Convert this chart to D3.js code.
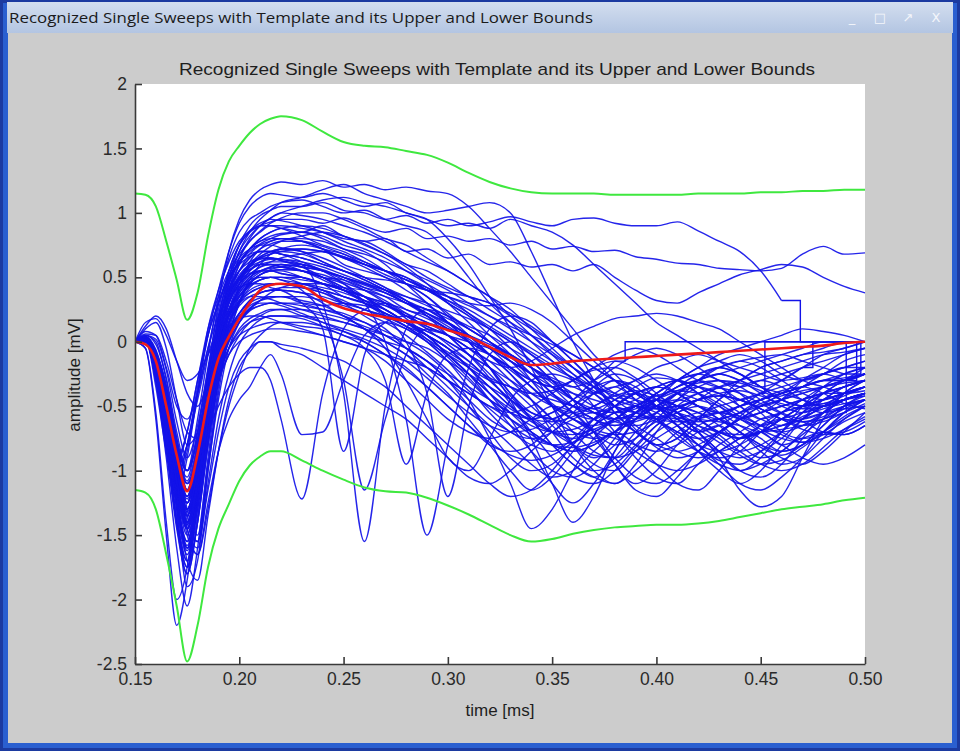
<!DOCTYPE html>
<html><head><meta charset="utf-8">
<script src="https://cdn.jsdelivr.net/npm/d3@7"></script>
<style>body{margin:0;background:#fff;overflow:hidden}</style>
</head><body>
<svg id="c" width="960" height="751"></svg>
<script>
// ---------- DATA ----------
const windowTitle = "Recognized Single Sweeps with Template and its Upper and Lower Bounds";
const chartTitle = "Recognized Single Sweeps with Template and its Upper and Lower Bounds";
const xLabel = "time [ms]";
const yLabel = "amplitude [mV]";
const xTicks = [0.15, 0.20, 0.25, 0.30, 0.35, 0.40, 0.45, 0.50];
const xTickLabels = ["0.15", "0.20", "0.25", "0.30", "0.35", "0.40", "0.45", "0.50"];
const yTicks = [2, 1.5, 1, 0.5, 0, -0.5, -1, -1.5, -2, -2.5];
const yTickLabels = ["2", "1.5", "1", "0.5", "0", "-0.5", "-1", "-1.5", "-2", "-2.5"];

const times = [0.150,0.155,0.160,0.165,0.170,0.175,0.180,0.185,0.190,0.195,0.200,0.205,0.210,0.215,0.220,
  0.23,0.24,0.25,0.26,0.27,0.28,0.29,0.30,0.31,0.32,0.33,0.34,0.35,0.36,0.37,0.38,0.39,0.40,0.41,0.42,0.43,0.44,0.45,0.46,0.47,0.48,0.49,0.50];

const template = [0,-0.02,-0.15,-0.5,-0.88,-1.16,-0.87,-0.45,-0.13,0.04,0.18,0.3,0.4,0.44,0.45,
  0.43,0.33,0.26,0.22,0.19,0.16,0.14,0.09,0.04,-0.04,-0.12,-0.18,-0.17,-0.15,-0.14,-0.13,-0.12,-0.11,-0.1,-0.09,-0.08,-0.07,-0.06,-0.05,-0.04,-0.03,-0.01,0];
const upperBound = [1.15,1.14,1.05,0.78,0.48,0.17,0.38,0.82,1.18,1.4,1.52,1.62,1.69,1.73,1.75,
  1.72,1.63,1.55,1.52,1.51,1.48,1.45,1.39,1.31,1.24,1.19,1.16,1.15,1.15,1.15,1.14,1.14,1.14,1.14,1.15,1.15,1.15,1.16,1.16,1.17,1.17,1.18,1.18];
const lowerBound = [-1.15,-1.17,-1.3,-1.65,-2.05,-2.48,-2.2,-1.75,-1.45,-1.26,-1.08,-0.96,-0.89,-0.85,-0.85,
  -0.92,-1.0,-1.07,-1.13,-1.16,-1.17,-1.21,-1.27,-1.34,-1.42,-1.5,-1.55,-1.53,-1.49,-1.46,-1.44,-1.43,-1.42,-1.42,-1.41,-1.39,-1.36,-1.33,-1.3,-1.28,-1.26,-1.23,-1.21];

const sweep01 = [0,0.03,-0.08,-0.4,-0.9,-1.25,-0.85,-0.25,0.3,0.7,0.95,1.1,1.18,1.22,1.24,
  1.22,1.25,1.2,1.22,1.18,1.2,1.17,1.15,1.05,0.88,0.7,0.5,0.3,0.1,-0.1,-0.25,-0.4,-0.5,-0.6,-0.7,-0.65,-0.75,-0.7,-0.8,-0.75,-0.7,-0.72,-0.65];
const sweep02 = [0,0.02,-0.3,-0.8,-1.1,-0.85,-0.4,0.05,0.4,0.7,0.92,1.05,1.12,1.15,1.14,
  1.12,1.15,1.1,1.05,1.08,1.0,0.95,0.8,0.6,0.35,0.1,-0.2,-0.5,-0.8,-1.0,-1.1,-0.95,-0.7,-0.5,-0.4,-0.35,-0.5,-0.6,-0.55,-0.45,-0.4,-0.35,-0.3];
const sweep03 = [0,0.02,-0.12,-0.5,-1.0,-1.35,-1.0,-0.45,0.1,0.5,0.75,0.9,0.98,1.02,1.05,
  1.05,1.08,1.02,1.0,0.95,0.98,0.92,0.95,0.9,0.93,0.97,0.93,0.9,0.95,0.96,0.92,0.9,0.9,0.93,0.86,0.78,0.7,0.55,0.32,0.12,0,0,0];
const sweep04 = [0,0.04,-0.1,-0.45,-0.85,-1.05,-0.7,-0.2,0.25,0.55,0.75,0.85,0.9,0.93,0.95,
  0.95,0.92,0.96,0.9,0.85,0.88,0.8,0.82,0.78,0.8,0.75,0.78,0.72,0.74,0.7,0.71,0.66,0.64,0.61,0.6,0.57,0.56,0.55,0.57,0.68,0.74,0.68,0.69];
const sweep05 = [0,0.02,-0.15,-0.55,-1.05,-1.4,-1.05,-0.5,0.0,0.35,0.6,0.72,0.8,0.85,0.88,
  0.85,0.9,0.82,0.78,0.8,0.7,0.72,0.65,0.68,0.6,0.62,0.58,0.6,0.55,0.6,0.5,0.4,0.32,0.3,0.38,0.45,0.52,0.56,0.6,0.58,0.5,0.43,0.38];
const sweep06 = [0,0.03,-0.1,-0.5,-1.0,-1.3,-0.95,-0.4,0.1,0.45,0.7,0.85,0.95,1.02,1.08,
  1.12,1.18,1.22,1.15,1.1,1.05,1.0,1.02,1.05,1.08,1.0,0.7,0.35,0.0,-0.3,-0.55,-0.7,-0.8,-0.75,-0.6,-0.45,-0.3,-0.2,-0.15,-0.1,-0.08,-0.05,0];
const sweep07 = [0,0.02,-0.08,-0.35,-0.75,-1.0,-0.6,-0.1,0.35,0.65,0.85,0.95,1.0,1.05,1.08,
  1.1,1.05,1.0,1.02,0.95,0.9,0.85,0.7,0.5,0.3,0.15,0.0,-0.15,-0.3,-0.5,-0.7,-0.9,-1.05,-1.1,-0.95,-0.8,-0.7,-0.6,-0.55,-0.5,-0.48,-0.45,-0.42];
const sweep08 = [0,0.0,-0.2,-0.6,-1.1,-1.45,-1.1,-0.55,0.0,0.4,0.65,0.8,0.9,0.96,1.0,
  0.98,0.95,0.9,0.85,0.78,0.7,0.62,0.55,0.45,0.35,0.25,0.1,-0.05,-0.2,-0.35,-0.5,-0.6,-0.55,-0.45,-0.3,-0.2,-0.25,-0.35,-0.45,-0.5,-0.55,-0.52,-0.5];
const sweep09 = [0,0.03,-0.1,-0.4,-0.9,-1.2,-0.85,-0.3,0.15,0.45,0.65,0.78,0.85,0.9,0.9,
  0.88,0.85,0.8,0.78,0.7,0.6,0.55,0.45,0.35,0.3,0.2,0.1,0.0,-0.1,-0.2,-0.3,-0.4,-0.5,-0.55,-0.7,-0.9,-1.15,-1.28,-1.2,-0.9,-0.6,-0.4,-0.3];
const sweep10 = [0,0.03,-0.25,-0.7,-0.95,-0.7,-0.3,0.05,0.3,0.5,0.62,0.7,0.76,0.8,0.83,
  0.85,0.82,0.75,0.7,0.6,0.45,0.3,0.15,0.0,-0.2,-0.4,-0.55,-0.6,-0.5,-0.35,-0.25,-0.3,-0.45,-0.6,-0.7,-0.65,-0.55,-0.45,-0.4,-0.35,-0.3,-0.28,-0.25];
const sweep11 = [0,0.02,-0.08,-0.35,-0.8,-1.3,-1.5,-0.95,-0.35,0.15,0.45,0.62,0.72,0.78,0.8,
  0.78,0.72,0.6,0.55,0.5,0.4,0.3,0.15,0.0,-0.2,-0.45,-0.75,-1.1,-1.4,-1.2,-0.85,-0.6,-0.5,-0.4,-0.45,-0.5,-0.6,-0.65,-0.6,-0.55,-0.5,-0.45,-0.4];
const sweep12 = [0,0.0,-0.15,-0.5,-1.0,-1.35,-1.1,-0.7,-0.3,0.05,0.3,0.48,0.6,0.68,0.72,
  0.75,0.72,0.65,0.6,0.55,0.5,0.42,0.3,0.2,0.05,-0.1,-0.3,-0.5,-0.7,-0.85,-0.9,-0.75,-0.55,-0.4,-0.3,-0.25,-0.2,-0.15,-0.1,-0.05,0,0,0];
const sweep13 = [0,0.03,-0.12,-0.5,-0.95,-1.25,-0.85,-0.3,0.2,0.48,0.62,0.68,0.7,0.7,0.68,
  0.62,0.55,0.45,0.3,0.0,-0.6,-1.5,-0.8,-0.2,0.1,0.2,0.15,0.0,-0.15,-0.3,-0.45,-0.55,-0.6,-0.55,-0.45,-0.35,-0.3,-0.25,-0.2,-0.15,-0.1,-0.08,-0.05];
const sweep14 = [0,0.02,-0.2,-0.65,-1.2,-1.6,-1.25,-0.7,-0.15,0.2,0.42,0.55,0.62,0.65,0.64,
  0.6,0.3,-0.4,-1.55,-0.5,0.1,0.25,0.2,0.1,0.0,-0.1,-0.25,-0.4,-0.55,-0.6,-0.5,-0.4,-0.35,-0.4,-0.5,-0.55,-0.5,-0.45,-0.4,-0.35,-0.3,-0.3,-0.25];
const sweep15 = [0,0.02,-0.1,-0.4,-0.85,-1.15,-0.95,-0.7,-0.5,-0.35,-0.25,-0.2,-0.2,-0.3,-0.6,
  -1.22,-0.4,0.1,0.25,0.3,0.2,0.1,0.05,-0.05,-0.15,-0.3,-0.45,-0.6,-0.7,-0.75,-0.7,-0.55,-0.45,-0.5,-0.6,-0.7,-0.75,-0.7,-0.6,-0.5,-0.45,-0.4,-0.35];
const sweep16 = [0,0.02,-0.1,-0.4,-0.95,-1.45,-1.65,-1.25,-0.85,-0.6,-0.45,-0.35,-0.2,-0.1,-0.25,
  -0.72,-0.7,-0.3,0.05,0.15,0.1,0.0,-0.1,-0.2,-0.3,-0.35,-0.45,-0.6,-0.8,-0.95,-1.0,-0.85,-0.7,-0.6,-0.55,-0.5,-0.45,-0.4,-0.35,-0.3,-0.25,-0.2,-0.2];
const sweep17 = [0,0.02,-0.3,-0.8,-1.05,-0.8,-0.4,-0.05,0.2,0.35,0.42,0.45,0.45,0.42,0.4,
  0.3,0.1,-0.85,-0.1,0.15,0.2,0.15,0.05,-0.1,-0.2,-0.35,-0.5,-0.65,-0.8,-0.9,-0.8,-0.6,-0.45,-0.35,-0.3,-0.35,-0.45,-0.5,-0.45,-0.35,-0.25,-0.2,-0.15];
const sweep18 = [0,0.02,-0.15,-0.55,-1.05,-1.4,-1.05,-0.5,-0.05,0.25,0.4,0.48,0.5,0.5,0.48,
  0.4,0.2,-0.3,-1.15,-0.6,-0.1,0.1,0.05,-0.05,-0.2,-0.4,-0.6,-0.8,-0.95,-1.05,-0.9,-0.7,-0.55,-0.5,-0.55,-0.65,-0.8,-0.9,-0.85,-0.7,-0.55,-0.45,-0.4];
const sweep19 = [0,0.03,-0.1,-0.45,-0.9,-1.2,-0.9,-0.45,0.0,0.3,0.45,0.52,0.55,0.55,0.53,
  0.5,0.45,0.4,0.35,0.2,0.0,-0.4,-1.2,-0.5,-0.1,0.0,-0.1,-0.25,-0.45,-0.7,-0.95,-1.1,-1.0,-0.8,-0.65,-0.6,-0.7,-0.85,-0.95,-0.9,-0.75,-0.6,-0.5];
const sweep20 = [0,0.02,-0.12,-0.45,-0.95,-1.25,-0.95,-0.45,0.0,0.3,0.45,0.55,0.6,0.6,0.58,
  0.55,0.5,0.48,0.42,0.38,0.3,0.25,0.15,0.05,-0.1,-0.25,-0.4,-0.5,-0.55,-0.5,-0.4,-0.3,-0.25,-0.3,-0.4,-0.5,-0.6,-0.55,-0.45,-0.3,-0.2,-0.1,-0.05];
const sweep21 = [0,0.02,-0.08,-0.35,-0.85,-1.35,-1.55,-1.0,-0.4,0.05,0.3,0.45,0.52,0.55,0.55,
  0.5,0.45,0.35,0.3,0.25,0.15,0.05,-0.05,-0.2,-0.4,-0.6,-0.85,-1.1,-1.25,-1.1,-0.85,-0.6,-0.45,-0.35,-0.3,-0.25,-0.3,-0.35,-0.3,-0.2,-0.1,-0.05,0];
const sweep22 = [0,0.02,-0.3,-0.9,-1.6,-2.05,-1.6,-0.9,-0.3,0.1,0.3,0.42,0.48,0.5,0.5,
  0.45,0.4,0.3,0.2,0.1,-0.05,-0.2,-0.35,-0.5,-0.65,-0.8,-0.95,-1.05,-1.0,-0.85,-0.7,-0.55,-0.5,-0.55,-0.65,-0.75,-0.85,-0.8,-0.7,-0.55,-0.4,-0.3,-0.2];
const sweep23 = [0,-0.05,-0.6,-1.5,-2.2,-1.85,-1.2,-0.6,-0.15,0.1,0.22,0.32,0.38,0.4,0.4,
  0.38,0.3,0.2,0.15,0.05,-0.05,-0.15,-0.3,-0.45,-0.6,-0.7,-0.8,-0.85,-0.75,-0.6,-0.5,-0.4,-0.35,-0.4,-0.5,-0.6,-0.7,-0.8,-0.9,-0.95,-0.85,-0.7,-0.55];
const sweep24 = [0,0.02,-0.15,-0.6,-1.3,-1.9,-1.7,-1.0,-0.45,-0.05,0.15,0.26,0.32,0.35,0.35,
  0.3,0.25,0.2,0.1,0.0,-0.1,-0.25,-0.4,-0.6,-0.8,-1.0,-1.15,-1.05,-0.85,-0.65,-0.5,-0.4,-0.45,-0.55,-0.7,-0.85,-1.0,-1.05,-0.95,-0.75,-0.55,-0.4,-0.3];
const sweep25 = [0,0.0,-0.2,-0.75,-1.4,-1.75,-1.4,-0.8,-0.3,0.0,0.15,0.24,0.28,0.3,0.3,
  0.28,0.25,0.22,0.15,0.08,0.0,-0.1,-0.25,-0.45,-0.75,-1.1,-1.45,-1.3,-1.0,-0.75,-0.6,-0.5,-0.45,-0.5,-0.55,-0.6,-0.55,-0.5,-0.45,-0.4,-0.35,-0.3,-0.25];
const sweep26 = [0,0.02,-0.18,-0.65,-1.25,-1.6,-1.3,-0.75,-0.3,-0.05,0.1,0.18,0.22,0.25,0.25,
  0.2,0.15,0.1,0.05,0.0,-0.05,-0.15,-0.3,-0.5,-0.7,-0.9,-1.0,-0.95,-0.8,-0.6,-0.45,-0.4,-0.5,-0.65,-0.8,-0.95,-1.1,-1.15,-1.05,-0.9,-0.7,-0.55,-0.45];
const sweep27 = [0,0.03,-0.15,-0.55,-1.1,-1.45,-1.2,-0.7,-0.3,-0.05,0.08,0.15,0.18,0.2,0.2,
  0.18,0.12,0.05,0.0,-0.1,-0.2,-0.35,-0.5,-0.65,-0.8,-0.85,-0.8,-0.65,-0.5,-0.4,-0.35,-0.45,-0.6,-0.75,-0.85,-0.9,-0.85,-0.7,-0.55,-0.45,-0.35,-0.3,-0.25];
const sweep28 = [0,0.0,-0.15,-0.5,-1.0,-1.3,-1.05,-0.65,-0.3,-0.1,0.0,0.05,0.08,0.1,0.1,
  0.08,0.05,0.0,-0.05,-0.15,-0.3,-0.45,-0.6,-0.7,-0.75,-0.7,-0.6,-0.5,-0.55,-0.7,-0.9,-1.05,-1.1,-1.0,-0.85,-0.7,-0.6,-0.55,-0.5,-0.45,-0.4,-0.35,-0.3];
const sweep29 = [0,0.02,-0.1,-0.4,-0.9,-1.4,-1.55,-1.15,-0.7,-0.35,-0.15,-0.05,0.0,0.0,-0.02,
  -0.05,-0.1,-0.15,-0.25,-0.35,-0.5,-0.65,-0.8,-0.95,-1.1,-1.2,-1.15,-1.0,-0.8,-0.65,-0.55,-0.5,-0.55,-0.65,-0.75,-0.85,-0.9,-0.85,-0.75,-0.6,-0.5,-0.4,-0.35];
const sweep30 = [0,0.12,0.2,0.1,-0.15,-0.4,-0.5,-0.3,0.0,0.2,0.35,0.45,0.52,0.56,0.58,
  0.6,0.55,0.5,0.45,0.38,0.3,0.2,0.1,0.0,-0.1,-0.2,-0.3,-0.35,-0.3,-0.2,-0.1,-0.05,-0.1,-0.2,-0.3,-0.35,-0.3,-0.2,-0.15,-0.1,-0.05,0,0];
const sweep31 = [0,0.1,0.15,-0.05,-0.45,-0.8,-0.7,-0.35,0.0,0.25,0.4,0.5,0.55,0.58,0.6,
  0.58,0.55,0.5,0.42,0.35,0.25,0.2,0.1,0.05,-0.05,-0.15,-0.25,-0.4,-0.5,-0.6,-0.65,-0.6,-0.5,-0.4,-0.35,-0.4,-0.5,-0.6,-0.65,-0.6,-0.5,-0.45,-0.4];
const sweep32 = [0,0.08,0.05,-0.2,-0.5,-0.6,-0.4,-0.05,0.3,0.52,0.65,0.72,0.75,0.75,0.73,
  0.7,0.62,0.55,0.5,0.42,0.35,0.28,0.2,0.12,0.05,-0.05,-0.15,-0.3,-0.45,-0.55,-0.6,-0.55,-0.45,-0.35,-0.25,-0.2,-0.25,-0.35,-0.45,-0.5,-0.45,-0.4,-0.35];
const sweep33 = [0,0.15,0.18,0.05,-0.15,-0.3,-0.25,-0.1,0.05,0.12,0.18,0.2,0.2,0.18,0.15,
  0.1,0.05,0.0,-0.05,-0.1,-0.15,-0.2,-0.3,-0.4,-0.5,-0.55,-0.5,-0.4,-0.3,-0.2,-0.15,-0.2,-0.3,-0.4,-0.5,-0.55,-0.5,-0.4,-0.3,-0.2,-0.15,-0.1,-0.05];
const sweep34 = [0,0.02,-0.1,-0.4,-0.8,-1.0,-0.75,-0.35,0.0,0.2,0.3,0.35,0.35,0.33,0.3,
  0.25,0.2,0.15,0.1,0.05,0.0,-0.05,-0.15,-0.25,-0.35,-0.45,-0.55,-0.6,-0.65,-0.75,-0.95,-1.15,-1.2,-1.05,-0.85,-0.7,-0.6,-0.55,-0.5,-0.45,-0.4,-0.4,-0.35];
const sweep35 = [0,0.03,-0.12,-0.45,-0.85,-1.1,-0.9,-0.55,-0.2,0.0,0.15,0.25,0.32,0.38,0.42,
  0.45,0.45,0.4,0.35,0.3,0.2,0.12,0.05,0.0,-0.05,-0.1,-0.2,-0.3,-0.4,-0.5,-0.55,-0.5,-0.4,-0.3,-0.2,-0.15,-0.1,-0.15,-0.25,-0.3,-0.25,-0.15,-0.1];
const sweep36 = [0,0.0,-0.12,-0.5,-1.0,-1.3,-1.0,-0.55,-0.2,0.05,0.18,0.25,0.28,0.3,0.3,
  0.3,0.28,0.3,0.25,0.2,0.12,0.05,-0.05,-0.2,-0.35,-0.5,-0.6,-0.55,-0.45,-0.3,-0.15,-0.05,0.0,-0.05,-0.15,-0.25,-0.35,-0.4,-0.35,-0.25,-0.15,-0.05,0];
const sweep37 = [0,0.02,-0.22,-0.7,-1.25,-1.55,-1.15,-0.55,0.0,0.35,0.52,0.6,0.64,0.65,0.63,
  0.58,0.5,0.4,0.32,0.25,0.15,0.05,-0.1,-0.25,-0.45,-0.65,-0.85,-1.0,-1.05,-0.95,-0.75,-0.55,-0.4,-0.3,-0.25,-0.3,-0.4,-0.55,-0.7,-0.75,-0.7,-0.55,-0.45];
const sweep38 = [0,0.03,-0.25,-0.8,-1.4,-1.7,-1.25,-0.6,0.0,0.38,0.55,0.65,0.7,0.7,0.68,
  0.65,0.6,0.55,0.48,0.4,0.3,0.25,0.15,0.05,-0.05,-0.2,-0.35,-0.5,-0.6,-0.7,-0.75,-0.8,-0.85,-0.8,-0.7,-0.6,-0.5,-0.45,-0.4,-0.35,-0.3,-0.3,-0.25];
const sweep39 = [0,0.0,-0.28,-0.85,-1.45,-1.8,-1.4,-0.75,-0.2,0.15,0.32,0.4,0.44,0.45,0.45,
  0.42,0.38,0.3,0.25,0.18,0.1,0.0,-0.15,-0.35,-0.55,-0.7,-0.75,-0.7,-0.55,-0.4,-0.3,-0.35,-0.5,-0.65,-0.85,-1.0,-1.1,-1.0,-0.8,-0.6,-0.45,-0.35,-0.3];
const sweep40 = [0,0.02,-0.35,-0.85,-1.2,-0.9,-0.4,0.1,0.4,0.62,0.78,0.86,0.9,0.9,0.88,
  0.82,0.75,0.7,0.62,0.55,0.48,0.4,0.3,0.2,0.1,0.0,-0.15,-0.3,-0.45,-0.55,-0.6,-0.55,-0.45,-0.3,-0.2,-0.1,-0.05,0.0,0.05,0.1,0.08,0.05,0];
const sweep41 = [0,0.02,-0.15,-0.5,-1.05,-1.35,-0.95,-0.4,0.1,0.45,0.62,0.72,0.78,0.8,0.8,
  0.78,0.72,0.68,0.6,0.55,0.5,0.4,0.32,0.25,0.15,0.05,-0.05,-0.15,-0.25,-0.35,-0.4,-0.45,-0.5,-0.55,-0.6,-0.62,-0.65,-0.7,-0.68,-0.65,-0.6,-0.55,0];
const sweep42 = [0,0.0,-0.2,-0.6,-1.15,-1.5,-1.15,-0.6,-0.1,0.22,0.38,0.46,0.5,0.5,0.48,
  0.45,0.4,0.35,0.3,0.22,0.15,0.08,0.0,-0.1,-0.2,-0.3,-0.4,-0.45,-0.5,-0.55,-0.5,-0.45,-0.35,-0.3,-0.35,-0.4,-0.45,-0.4,-0.35,0,0,0,0];
const sweep43 = [0,0.04,-0.08,-0.38,-0.78,-1.0,-0.7,-0.25,0.15,0.38,0.48,0.53,0.55,0.55,0.53,
  0.5,0.45,0.42,0.4,0.35,0.3,0.22,0.15,0.05,-0.05,-0.15,-0.25,-0.3,-0.35,-0.3,-0.2,-0.1,-0.05,-0.1,-0.2,-0.3,-0.35,-0.3,-0.25,-0.2,-0.15,0,0];
const sweep44 = [0,0.02,-0.1,-0.45,-0.95,-1.25,-0.95,-0.5,-0.1,0.15,0.28,0.35,0.38,0.4,0.4,
  0.38,0.35,0.3,0.28,0.22,0.15,0.05,-0.05,-0.15,-0.3,-0.45,-0.6,-0.7,-0.75,-0.7,-0.6,-0.5,-0.4,-0.3,-0.25,-0.2,-0.15,-0.12,-0.1,-0.15,-0.2,-0.25,0];
const sweep45 = [0,0.02,-0.1,-0.4,-0.95,-1.45,-1.6,-1.1,-0.6,-0.25,-0.02,0.1,0.17,0.2,0.2,
  0.2,0.18,0.15,0.1,0.0,-0.1,-0.2,-0.3,-0.4,-0.5,-0.6,-0.7,-0.8,-0.85,-0.8,-0.7,-0.8,-0.95,-1.1,-1.15,-1.0,-0.8,-0.65,-0.55,-0.5,-0.45,-0.4,-0.35];
const sweep46 = [0,0.03,-0.25,-0.65,-0.9,-0.7,-0.3,0.1,0.35,0.55,0.68,0.78,0.86,0.92,0.96,
  1.0,1.0,0.95,0.88,0.8,0.75,0.65,0.55,0.45,0.35,0.2,0.05,-0.1,-0.25,-0.4,-0.5,-0.55,-0.5,-0.4,-0.3,-0.2,-0.15,-0.2,-0.3,-0.4,-0.45,-0.4,-0.35];
const sweep47 = [0,0.02,-0.15,-0.55,-1.1,-1.4,-1.1,-0.6,-0.2,0.08,0.22,0.3,0.34,0.35,0.35,
  0.32,0.28,0.2,0.1,-0.05,-0.3,-0.6,-0.9,-1.0,-0.75,-0.45,-0.3,-0.25,-0.3,-0.4,-0.55,-0.7,-0.8,-0.75,-0.6,-0.45,-0.35,-0.3,-0.35,-0.45,-0.5,-0.45,-0.4];
const sweep48 = [0,-0.05,-0.55,-1.4,-2.0,-1.75,-1.1,-0.5,0.0,0.3,0.45,0.52,0.58,0.6,0.6,
  0.55,0.5,0.45,0.35,0.25,0.15,0.05,-0.1,-0.25,-0.4,-0.55,-0.7,-0.8,-0.85,-0.8,-0.7,-0.6,-0.5,-0.45,-0.5,-0.6,-0.7,-0.8,-0.85,-0.8,-0.7,-0.6,-0.5];
const sweep49 = [0,0.0,-0.12,-0.5,-1.15,-1.7,-1.85,-1.35,-0.85,-0.45,-0.2,-0.08,0.0,0.0,-0.05,
  -0.1,-0.2,-0.3,-0.4,-0.5,-0.6,-0.75,-0.9,-1.05,-1.1,-1.0,-0.85,-0.7,-0.6,-0.55,-0.6,-0.7,-0.8,-0.85,-0.8,-0.7,-0.6,-0.5,-0.45,-0.4,-0.35,-0.3,-0.25];
const sweep50 = [0,0.03,-0.1,-0.42,-0.88,-1.15,-0.8,-0.3,0.15,0.42,0.55,0.62,0.65,0.65,0.63,
  0.6,0.55,0.5,0.45,0.4,0.32,0.25,0.18,0.1,0.0,-0.1,-0.2,-0.28,-0.35,-0.4,-0.35,-0.3,-0.2,-0.15,-0.1,-0.15,-0.2,-0.25,-0.3,-0.28,-0.25,-0.3,0];
const sweep51 = [0,0.02,-0.12,-0.48,-1.0,-1.3,-1.0,-0.5,-0.05,0.22,0.36,0.44,0.48,0.5,0.5,
  0.5,0.45,0.4,0.32,0.22,0.12,0.02,-0.08,-0.18,-0.28,-0.35,-0.4,-0.38,-0.3,-0.22,-0.2,-0.28,-0.4,-0.55,-0.7,-0.85,-1.0,-0.9,-0.7,-0.5,-0.35,-0.25,-0.2];
const sweep52 = [0,0.03,-0.3,-0.75,-1.05,-0.8,-0.35,0.05,0.3,0.5,0.6,0.66,0.7,0.7,0.68,
  0.65,0.6,0.55,0.5,0.48,0.45,0.4,0.35,0.3,0.28,0.3,0.25,0.15,0.0,-0.15,-0.3,-0.45,-0.6,-0.7,-0.75,-0.7,-0.6,-0.5,-0.4,-0.3,-0.25,-0.2,-0.15];
const sweep53 = [0,0.02,-0.18,-0.6,-1.15,-1.45,-1.05,-0.45,0.05,0.4,0.6,0.72,0.78,0.82,0.84,
  0.85,0.8,0.72,0.65,0.55,0.45,0.35,0.2,0.05,-0.1,-0.25,-0.45,-0.7,-0.9,-1.0,-0.95,-0.8,-0.65,-0.55,-0.5,-0.55,-0.65,-0.75,-0.85,-0.8,-0.65,-0.5,-0.4];
const sweep54 = [0,0.06,0.05,-0.15,-0.45,-0.7,-0.75,-0.55,-0.3,-0.1,0.05,0.15,0.2,0.24,0.25,
  0.25,0.22,0.18,0.12,0.05,-0.05,-0.15,-0.25,-0.35,-0.45,-0.55,-0.65,-0.7,-0.68,-0.6,-0.5,-0.4,-0.35,-0.3,-0.35,-0.45,-0.55,-0.65,-0.7,-0.65,-0.55,-0.45,-0.4];
const sweep55 = [0,0.03,-0.1,-0.45,-0.9,-1.2,-0.85,-0.3,0.2,0.5,0.7,0.82,0.9,0.96,1.0,
  1.05,1.1,1.12,1.08,1.05,1.0,0.95,0.9,0.92,0.88,0.95,0.9,0.85,0.75,0.6,0.45,0.3,0.15,0.05,-0.05,-0.15,-0.25,-0.35,-0.4,-0.45,-0.5,-0.45,-0.4];
const sweep56 = [0,0.0,-0.1,-0.45,-1.0,-1.5,-1.65,-1.3,-0.85,-0.5,-0.25,-0.05,0.05,0.12,0.15,
  0.15,0.12,0.08,0.02,-0.05,-0.15,-0.28,-0.42,-0.55,-0.65,-0.7,-0.68,-0.6,-0.55,-0.6,-0.72,-0.85,-0.95,-1.0,-0.95,-0.85,-0.75,-0.7,-0.65,-0.6,-0.55,-0.5,-0.45];
const sweep57 = [0,0.04,-0.25,-0.65,-0.95,-0.8,-0.45,-0.1,0.1,0.25,0.35,0.43,0.48,0.5,0.5,
  0.48,0.45,0.4,0.35,0.3,0.25,0.18,0.1,0.0,-0.1,-0.2,-0.3,-0.35,-0.4,-0.45,-0.5,-0.55,-0.6,-0.62,-0.6,-0.55,-0.5,-0.45,-0.4,-0.35,-0.3,-0.25,-0.2];
const sweep58 = [0,0.02,-0.14,-0.52,-1.05,-1.35,-1.0,-0.45,0.0,0.32,0.48,0.56,0.6,0.6,0.58,
  0.55,0.5,0.42,0.35,0.28,0.2,0.12,0.05,-0.05,-0.15,-0.2,-0.15,-0.05,0.05,0.12,0.18,0.2,0.22,0.2,0.15,0.1,0.0,-0.1,-0.2,-0.3,-0.35,-0.4,-0.38];
const sweep59 = [0,0.02,-0.25,-0.8,-1.4,-1.75,-1.2,-0.45,0.15,0.55,0.75,0.86,0.92,0.95,0.94,
  0.9,0.85,0.78,0.72,0.65,0.55,0.45,0.35,0.22,0.1,-0.05,-0.2,-0.35,-0.5,-0.6,-0.65,-0.6,-0.5,-0.4,-0.3,-0.25,-0.3,-0.4,-0.5,-0.55,-0.5,-0.45,-0.4];
const sweep60 = [0,0.03,-0.12,-0.45,-0.85,-1.1,-0.9,-0.55,-0.25,-0.05,0.05,0.1,0.13,0.15,0.15,
  0.12,0.1,0.05,-0.05,-0.3,-0.95,-0.4,-0.1,-0.05,-0.1,-0.2,-0.35,-0.5,-0.6,-0.65,-0.6,-0.5,-0.45,-0.5,-0.6,-0.7,-0.75,-0.7,-0.6,-0.5,-0.4,-0.35,-0.3];
const sweep61 = [0,0.03,-0.14,-0.55,-1.05,-1.4,-1.05,-0.5,0.0,0.35,0.55,0.68,0.75,0.78,0.8,
  0.8,0.78,0.72,0.68,0.62,0.55,0.48,0.4,0.3,0.2,0.1,0.0,-0.1,-0.2,-0.3,-0.4,-0.5,-0.6,-0.7,-0.8,-0.85,-0.8,-0.7,-0.6,-0.5,-0.4,-0.3,-0.25];
const sweep62 = [0,0.05,0.0,-0.3,-0.75,-1.15,-0.95,-0.5,-0.05,0.25,0.42,0.52,0.58,0.62,0.65,
  0.68,0.7,0.66,0.6,0.52,0.45,0.35,0.22,0.1,0.0,-0.12,-0.25,-0.4,-0.55,-0.7,-0.8,-0.75,-0.6,-0.45,-0.35,-0.3,-0.35,-0.45,-0.55,-0.6,-0.55,-0.45,-0.4];
const sweep63 = [0,0.02,-0.2,-0.7,-1.3,-1.65,-1.3,-0.7,-0.15,0.2,0.4,0.5,0.55,0.57,0.58,
  0.55,0.48,0.4,0.3,0.2,0.12,0.0,-0.15,-0.3,-0.45,-0.55,-0.6,-0.55,-0.45,-0.35,-0.3,-0.38,-0.5,-0.65,-0.8,-0.92,-0.95,-0.85,-0.7,-0.55,-0.45,-0.35,-0.3];
const sweep64 = [0,0.04,-0.08,-0.4,-0.85,-1.15,-0.8,-0.3,0.15,0.45,0.62,0.72,0.8,0.85,0.88,
  0.9,0.88,0.82,0.75,0.68,0.6,0.5,0.42,0.35,0.25,0.15,0.05,-0.08,-0.2,-0.35,-0.5,-0.65,-0.75,-0.85,-0.9,-0.85,-0.75,-0.65,-0.6,-0.62,-0.7,-0.72,-0.65];
const sweep65 = [0,0.02,-0.16,-0.6,-1.1,-1.45,-1.15,-0.65,-0.15,0.15,0.3,0.38,0.42,0.45,0.45,
  0.42,0.38,0.32,0.25,0.2,0.15,0.08,0.0,-0.1,-0.25,-0.42,-0.6,-0.8,-0.95,-1.05,-1.1,-1.0,-0.85,-0.7,-0.6,-0.55,-0.6,-0.7,-0.8,-0.9,-0.95,-0.9,-0.8];
const sweep66 = [0,0.0,-0.22,-0.75,-1.35,-1.7,-1.35,-0.8,-0.3,0.05,0.22,0.32,0.38,0.4,0.42,
  0.42,0.4,0.35,0.3,0.22,0.15,0.05,-0.05,-0.2,-0.35,-0.5,-0.62,-0.7,-0.72,-0.68,-0.6,-0.5,-0.42,-0.38,-0.4,-0.48,-0.58,-0.68,-0.75,-0.78,-0.72,-0.62,-0.55];
const sweep67 = [0,0.03,-0.1,-0.45,-0.92,-1.25,-0.92,-0.4,0.05,0.35,0.5,0.6,0.65,0.68,0.7,
  0.72,0.7,0.65,0.58,0.5,0.45,0.4,0.38,0.35,0.3,0.22,0.12,0.0,-0.15,-0.32,-0.5,-0.68,-0.82,-0.9,-0.85,-0.72,-0.58,-0.45,-0.38,-0.35,-0.4,-0.48,-0.52];
const sweep68 = [0,0.02,-0.18,-0.62,-1.2,-1.55,-1.2,-0.62,-0.1,0.25,0.45,0.58,0.66,0.7,0.72,
  0.7,0.65,0.58,0.5,0.42,0.32,0.2,0.05,-0.1,-0.28,-0.48,-0.7,-0.9,-1.05,-1.1,-1.0,-0.82,-0.65,-0.52,-0.45,-0.42,-0.45,-0.52,-0.6,-0.62,-0.58,-0.5,-0.45];
const sweep69 = [0,0.05,-0.02,-0.28,-0.7,-1.0,-0.75,-0.3,0.1,0.35,0.5,0.58,0.62,0.64,0.64,
  0.62,0.58,0.52,0.46,0.4,0.35,0.3,0.24,0.18,0.1,0.0,-0.1,-0.2,-0.28,-0.35,-0.42,-0.48,-0.5,-0.46,-0.4,-0.36,-0.4,-0.48,-0.56,-0.62,-0.6,-0.52,-0.45];
const sweep70 = [0,0.02,-0.12,-0.5,-1.0,-1.3,-1.0,-0.5,-0.02,0.3,0.48,0.6,0.68,0.74,0.78,
  0.82,0.85,0.82,0.76,0.68,0.58,0.45,0.3,0.15,0.0,-0.15,-0.3,-0.42,-0.5,-0.52,-0.45,-0.35,-0.28,-0.3,-0.4,-0.55,-0.7,-0.82,-0.88,-0.8,-0.65,-0.5,-0.42];
const sweep71 = [0,0.0,-0.2,-0.68,-1.25,-1.6,-1.25,-0.72,-0.25,0.05,0.2,0.28,0.32,0.34,0.35,
  0.35,0.32,0.28,0.22,0.15,0.05,-0.08,-0.22,-0.38,-0.52,-0.65,-0.75,-0.8,-0.78,-0.7,-0.62,-0.58,-0.62,-0.72,-0.85,-0.95,-1.0,-0.95,-0.85,-0.72,-0.6,-0.5,-0.45];
const sweep72 = [0,0.03,-0.08,-0.38,-0.82,-1.1,-0.85,-0.42,-0.05,0.2,0.32,0.38,0.42,0.44,0.45,
  0.45,0.42,0.38,0.32,0.28,0.22,0.15,0.1,0.05,-0.02,-0.1,-0.2,-0.32,-0.45,-0.55,-0.62,-0.65,-0.6,-0.52,-0.45,-0.4,-0.38,-0.42,-0.48,-0.52,-0.5,-0.45,-0.4];
const sweep73 = [0,0.02,-0.24,-0.78,-1.42,-1.8,-1.4,-0.8,-0.25,0.12,0.32,0.45,0.52,0.55,0.56,
  0.55,0.5,0.42,0.35,0.25,0.15,0.02,-0.12,-0.28,-0.45,-0.6,-0.72,-0.8,-0.82,-0.78,-0.7,-0.62,-0.58,-0.6,-0.68,-0.78,-0.88,-0.95,-0.92,-0.82,-0.7,-0.58,-0.5];
const sweep74 = [0,0.04,-0.06,-0.35,-0.8,-1.08,-0.78,-0.3,0.12,0.4,0.55,0.65,0.72,0.76,0.78,
  0.78,0.74,0.68,0.62,0.55,0.48,0.4,0.32,0.22,0.12,0.02,-0.08,-0.18,-0.28,-0.38,-0.45,-0.5,-0.52,-0.5,-0.45,-0.42,-0.45,-0.52,-0.6,-0.68,-0.72,-0.7,-0.62];
const sweep75 = [0,0.02,-0.15,-0.55,-1.08,-1.42,-1.1,-0.6,-0.12,0.2,0.38,0.48,0.54,0.58,0.6,
  0.58,0.55,0.48,0.4,0.3,0.18,0.05,-0.1,-0.25,-0.4,-0.52,-0.6,-0.62,-0.58,-0.5,-0.42,-0.38,-0.42,-0.5,-0.6,-0.72,-0.85,-0.95,-1.0,-0.95,-0.82,-0.68,-0.58];
const sweep76 = [0,0.03,-0.1,-0.42,-0.9,-1.22,-0.9,-0.42,0.05,0.32,0.5,0.6,0.66,0.7,0.72,
  0.72,0.7,0.66,0.6,0.55,0.48,0.42,0.35,0.28,0.2,0.12,0.05,-0.02,-0.1,-0.2,-0.3,-0.4,-0.5,-0.58,-0.62,-0.6,-0.55,-0.48,-0.42,-0.38,-0.35,-0.32,-0.3];
const sweep77 = [0,0.0,-0.18,-0.65,-1.22,-1.58,-1.25,-0.75,-0.28,0.02,0.18,0.26,0.3,0.3,0.28,
  0.22,0.15,0.08,0.0,-0.1,-0.22,-0.35,-0.5,-0.65,-0.78,-0.88,-0.92,-0.88,-0.78,-0.65,-0.55,-0.5,-0.52,-0.58,-0.65,-0.7,-0.72,-0.7,-0.65,-0.58,-0.52,-0.48,-0.45];
const sweep78 = [0,0.03,-0.12,-0.48,-0.98,-1.32,-1.0,-0.48,0.0,0.3,0.48,0.58,0.65,0.68,0.7,
  0.68,0.62,0.55,0.48,0.4,0.32,0.22,0.12,0.02,-0.1,-0.22,-0.35,-0.48,-0.6,-0.68,-0.72,-0.7,-0.62,-0.52,-0.45,-0.42,-0.45,-0.52,-0.6,-0.65,-0.62,-0.55,-0.48];
const sweep79 = [0,0.05,0.02,-0.22,-0.62,-0.9,-0.65,-0.22,0.15,0.38,0.5,0.56,0.6,0.62,0.62,
  0.6,0.56,0.5,0.44,0.38,0.3,0.22,0.14,0.05,-0.05,-0.15,-0.25,-0.35,-0.45,-0.52,-0.55,-0.52,-0.45,-0.38,-0.32,-0.3,-0.32,-0.38,-0.45,-0.5,-0.48,-0.42,-0.35];
const sweep80 = [0,0.02,-0.2,-0.7,-1.28,-1.62,-1.28,-0.72,-0.2,0.15,0.35,0.46,0.52,0.55,0.56,
  0.55,0.52,0.46,0.4,0.32,0.22,0.1,-0.02,-0.15,-0.3,-0.45,-0.58,-0.7,-0.8,-0.88,-0.9,-0.85,-0.75,-0.65,-0.58,-0.55,-0.58,-0.65,-0.72,-0.78,-0.75,-0.68,-0.6];

const sweeps = [sweep01,sweep02,sweep03,sweep04,sweep05,sweep06,sweep07,sweep08,sweep09,sweep10,
  sweep11,sweep12,sweep13,sweep14,sweep15,sweep16,sweep17,sweep18,sweep19,sweep20,
  sweep21,sweep22,sweep23,sweep24,sweep25,sweep26,sweep27,sweep28,sweep29,sweep30,
  sweep31,sweep32,sweep33,sweep34,sweep35,sweep36,sweep37,sweep38,sweep39,sweep40,
  sweep41,sweep42,sweep43,sweep44,sweep45,sweep46,sweep47,sweep48,sweep49,sweep50,
  sweep51,sweep52,sweep53,sweep54,sweep55,sweep56,sweep57,sweep58,sweep59,sweep60,
  sweep61,sweep62,sweep63,sweep64,sweep65,sweep66,sweep67,sweep68,sweep69,sweep70,
  sweep71,sweep72,sweep73,sweep74,sweep75,sweep76,sweep77,sweep78,sweep79,sweep80];
// time at which a recorded sweep stops (afterwards it is zero-padded); null = full length
const sweepEnds = [null,null,0.469,null,null,null,null,null,null,null,
  null,null,null,null,null,null,null,null,null,null,
  null,null,null,null,null,null,null,null,null,null,
  null,null,null,null,null,0.385,null,null,null,null,
  0.491,0.452,0.475,0.498,null,null,null,null,null,0.496,
  null,null,null,null,null,null,null,null,null,null,
  null,null,null,null,null,null,null,null,null,null,
  null,null,null,null,null,null,null,null,null,null];

// ---------- DRAW ----------
const svg = d3.select("#c");
const W = 960, H = 751;
const defs = svg.append("defs");
const tg = defs.append("linearGradient").attr("id","tb").attr("x1",0).attr("y1",0).attr("x2",0).attr("y2",1);
tg.append("stop").attr("offset","0%").attr("stop-color","#d3deef");
tg.append("stop").attr("offset","100%").attr("stop-color","#b3c5e2");

// window frame
svg.append("rect").attr("x",0).attr("y",0).attr("width",W).attr("height",H).attr("fill","#1c3aa0");
svg.append("rect").attr("x",3).attr("y",3).attr("width",W-6).attr("height",H-6).attr("fill","#2a5fd0");
svg.append("rect").attr("x",7).attr("y",2).attr("width",W-14).attr("height",31).attr("fill","url(#tb)");
svg.append("rect").attr("x",8).attr("y",33).attr("width",W-16).attr("height",H-41).attr("fill","#cccccc");
svg.append("text").attr("x",9).attr("y",23).attr("font-family","'Open Sans','DejaVu Sans',sans-serif")
  .attr("font-size",15).attr("fill","#1a1a1a").attr("textLength",584).attr("lengthAdjust","spacingAndGlyphs")
  .text(windowTitle);
const ctrl = ["_","\u25A1","\u2197","X"];
svg.selectAll("text.ctrl").data(ctrl).enter().append("text").attr("class","ctrl")
  .attr("x",(d,i)=>852+i*28).attr("y",22).attr("text-anchor","middle")
  .attr("font-family","'DejaVu Sans',sans-serif").attr("font-size",13).attr("fill","#f4f6fb").text(d=>d);

const x = d3.scaleLinear().domain([0.15,0.50]).range([135,865]);
const y = d3.scaleLinear().domain([-2.5,2]).range([664,84]);

svg.append("rect").attr("x",x(0.15)).attr("y",y(2)).attr("width",x(0.5)-x(0.15)).attr("height",y(-2.5)-y(2)).attr("fill","#ffffff");
defs.append("clipPath").attr("id","pc").append("rect")
  .attr("x",x(0.15)).attr("y",y(2)-2).attr("width",x(0.5)-x(0.15)+1).attr("height",y(-2.5)-y(2)+4);

const plot = svg.append("g").attr("clip-path","url(#pc)");
const curveLine = d3.line().x(d=>x(d[0])).y(d=>y(d[1])).curve(d3.curveMonotoneX);
const straight = d3.line().x(d=>x(d[0])).y(d=>y(d[1]));
const blue = "#1212e8", bw = 1.4;

sweeps.forEach((s,i)=>{
  const end = sweepEnds[i];
  let pts = times.map((t,j)=>[t,s[j]]);
  if (end !== null) {
    pts = pts.filter(p=>p[0] <= end + 1e-9);
    const last = pts[pts.length-1][1];
    plot.append("path").attr("d", straight([[pts[pts.length-1][0],last],[end,last],[end,0],[0.5,0]]))
      .attr("fill","none").attr("stroke",blue).attr("stroke-width",bw);
  }
  plot.append("path").attr("d", curveLine(pts)).attr("fill","none")
    .attr("stroke",blue).attr("stroke-width",bw).attr("stroke-opacity",0.92);
});

const bound = (arr)=> times.map((t,j)=>[t,arr[j]]);
plot.append("path").attr("d",curveLine(bound(upperBound))).attr("fill","none").attr("stroke","#3fe83f").attr("stroke-width",2);
plot.append("path").attr("d",curveLine(bound(lowerBound))).attr("fill","none").attr("stroke","#3fe83f").attr("stroke-width",2);
plot.append("path").attr("d",curveLine(bound(template))).attr("fill","none").attr("stroke","#ee1a1a").attr("stroke-width",2.6);

// axes
const fontAx = "'Liberation Sans',Arial,sans-serif";
const xAxis = d3.axisBottom(x).tickValues(xTicks).tickFormat((d,i)=>xTickLabels[i]).tickSizeInner(-7).tickSizeOuter(0).tickPadding(9);
const yAxis = d3.axisLeft(y).tickValues(yTicks).tickFormat((d,i)=>yTickLabels[i]).tickSizeInner(-7).tickSizeOuter(0).tickPadding(8);
const gx = svg.append("g").attr("transform",`translate(0,${y(-2.5)})`).call(xAxis);
const gy = svg.append("g").attr("transform",`translate(${x(0.15)},0)`).call(yAxis);
[gx,gy].forEach(g=>{
  g.selectAll("path.domain").attr("stroke","#3a3a3a").attr("stroke-width",1.6);
  g.selectAll(".tick line").attr("stroke","#3a3a3a").attr("stroke-width",1.6);
  g.selectAll(".tick text").attr("font-family",fontAx).attr("font-size",17.5).attr("fill","#2a2a2a");
});

svg.append("text").attr("x",497).attr("y",75).attr("text-anchor","middle").attr("font-family",fontAx)
  .attr("font-size",17).attr("fill","#1e1e1e").attr("textLength",636).attr("lengthAdjust","spacingAndGlyphs").text(chartTitle);
svg.append("text").attr("x",500).attr("y",716).attr("text-anchor","middle").attr("font-family",fontAx)
  .attr("font-size",17).attr("fill","#1e1e1e").text(xLabel);
svg.append("text").attr("transform","translate(80,375) rotate(-90)").attr("text-anchor","middle").attr("font-family",fontAx)
  .attr("font-size",17).attr("fill","#1e1e1e").text(yLabel);
</script>
</body></html>
